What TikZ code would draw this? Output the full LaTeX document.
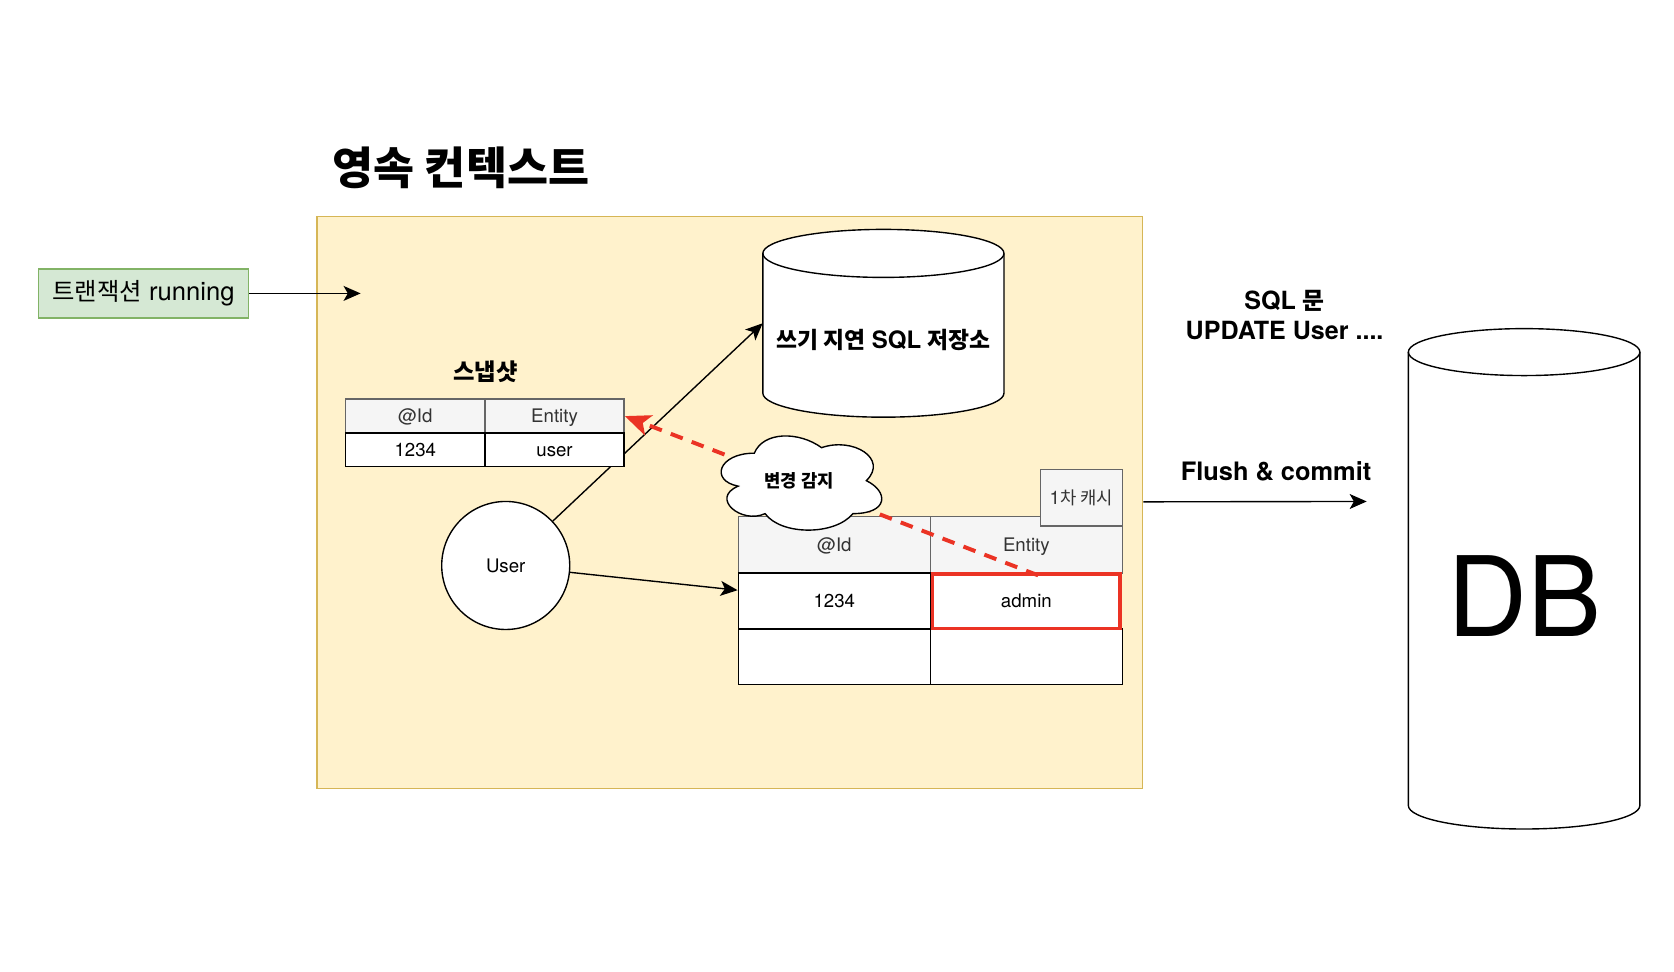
\documentclass[tikz,border=0pt]{standalone}
\usepackage{fontspec}
\setmainfont{TeX Gyre Heros}
\newfontfamily\kr[Scale=0.95]{Noto Sans CJK KR}
\usetikzlibrary{arrows.meta,calc}
\pgfdeclarelayer{back}
\pgfdeclarelayer{mid}
\pgfsetlayers{back,mid,main}
\definecolor{ctxfill}{HTML}{FFF2CC}
\definecolor{ctxdraw}{HTML}{D6B656}
\definecolor{grnfill}{HTML}{D5E8D4}
\definecolor{grndraw}{HTML}{82B366}
\definecolor{hdrfill}{HTML}{F5F5F5}
\definecolor{hdrdraw}{HTML}{666666}
\definecolor{hdrtext}{HTML}{333333}
\definecolor{alert}{HTML}{EB3324}
\tikzset{
  arr/.style={-{Stealth[length=16pt,width=14pt,inset=4pt]}, line width=1.3pt},
  redarr/.style={draw=alert, line width=3.7pt, dash pattern=on 12pt off 9pt,
     -{Stealth[length=24pt,width=20pt,inset=6pt]}},
  cell/.style={draw=black, fill=white, line width=1.3pt, inner sep=0pt,
     font=\fontsize{17.5}{20}\selectfont, text height=12.6pt, text depth=0pt},
  hdr/.style={cell, draw=hdrdraw, fill=hdrfill, text=hdrtext},
  shapeline/.style={draw=black, line width=1.3pt},
}
\begin{document}
\begin{tikzpicture}[x=1pt,y=-1pt]
\useasboundingbox (0,0) rectangle (1569,911);

% context box
\begin{pgfonlayer}{back}
\fill[white] (0,0) rectangle (1569,911);
\node[draw=ctxdraw, fill=ctxfill, line width=1.3pt, minimum width=774, minimum height=536, inner sep=0pt] (ctx) at (684,471) {};
\end{pgfonlayer}

\node[font=\fontsize{44}{50}\selectfont\bfseries] (title) at (432,157) {\kr 영속 컨텍스트};

% transaction
\node[draw=grndraw, fill=grnfill, line width=1.3pt, minimum width=197, minimum height=46, inner sep=0pt,
      font=\fontsize{24}{28}\selectfont] (txn) at (134.5,275) {{\kr 트랜잭션} running};
\coordinate (txnend) at (338,275);
\draw[arr] (txn) -- (txnend);

% snapshot
\node[font=\fontsize{23}{26}\selectfont\bfseries] (snaplbl) at (455,348) {\kr 스냅샷};
\node[hdr, minimum width=130.5, minimum height=32] (s11) at (389.25,390) {@Id};
\node[hdr, minimum width=130.5, minimum height=32] (s12) at (519.75,390) {Entity};
\node[cell, minimum width=130.5, minimum height=31] (s21) at (389.25,421.5) {1234};
\node[cell, minimum width=130.5, minimum height=31] (s22) at (519.75,421.5) {user};

% write-behind SQL store
\node[minimum width=226, minimum height=176, inner sep=0pt] (wds) at (828,303) {};
\draw[shapeline, fill=white] (715,237.5) -- (715,368.5)
   arc[start angle=180, end angle=360, x radius=113pt, y radius=22.5pt] -- (941,237.5)
   arc[start angle=0, end angle=180, x radius=113pt, y radius=22.5pt] -- cycle;
\draw[shapeline] (715,237.5) arc[start angle=180, end angle=360, x radius=113pt, y radius=22.5pt];
\node[font=\fontsize{22.5}{26}\selectfont\bfseries] (wdstext) at (828,319) {{\kr 쓰기 지연} SQL {\kr 저장소}};

% user
\node[circle, shapeline, fill=white, minimum size=120, inner sep=0pt,
      font=\fontsize{17.5}{20}\selectfont] (user) at (474,530) {User};
\begin{pgfonlayer}{mid}
\draw[arr] (user) -- (wds.west);
\end{pgfonlayer}

% first-level cache
\node[hdr, minimum width=180, minimum height=53] (c01) at (782,510.5) {@Id};
\node[hdr, minimum width=180, minimum height=53] (c02) at (962,510.5) {Entity};
\node[cell, minimum width=180, minimum height=53] (c11) at (782,563.5) {1234};
\node[cell, minimum width=180, minimum height=52] (c21) at (782,615.5) {};
\node[cell, minimum width=180, minimum height=52] (c22) at (962,615.5) {};
\node[cell, draw=alert, line width=3.5pt, minimum width=176, minimum height=51] (c12) at (962,563.5) {admin};
\node[hdr, minimum width=77, minimum height=53, font=\fontsize{17.5}{20}\selectfont] (cachelbl) at (1013.5,466.5) {1{\kr 차 캐시}};

\draw[arr] (user) -- ($(c11.north west)!0.31!(c11.south west)$);

% dirty checking
\draw[redarr] ($(c12.north)+(11,3)$) -- (s12.east);
\draw[shapeline, fill=white, shift={(665,399)}]
  (42,25.75) .. controls (8.4,25.75) and (0,51.5) .. (26.88,56.65)
  .. controls (0,67.98) and (30.24,92.7) .. (52.08,82.4)
  .. controls (67.2,103) and (117.6,103) .. (134.4,82.4)
  .. controls (168,82.4) and (168,61.8) .. (147,51.5)
  .. controls (168,30.9) and (134.4,10.3) .. (105,20.6)
  .. controls (84,5.15) and (50.4,5.15) .. (42,25.75) -- cycle;
\node[font=\fontsize{17.5}{20}\selectfont\bfseries] (cloud) at (749,451) {\kr 변경 감지};

% flush
\node[font=\fontsize{23.5}{28.5}\selectfont\bfseries, align=center] (sql) at (1204,295) {SQL {\kr 문}\\UPDATE User ....};
\node[font=\fontsize{23.8}{28}\selectfont\bfseries] (flush) at (1196,442) {Flush \& commit};
\coordinate (flushend) at (1281,470);
\draw[arr] (ctx) -- (flushend);

% DB
\node[minimum width=217, minimum height=469, inner sep=0pt] (db) at (1428.5,542.5) {};
\draw[shapeline, fill=white] (1320,330) -- (1320,755)
   arc[start angle=180, end angle=360, x radius=108.5pt, y radius=22pt] -- (1537,330)
   arc[start angle=0, end angle=180, x radius=108.5pt, y radius=22pt] -- cycle;
\draw[shapeline] (1320,330) arc[start angle=180, end angle=360, x radius=108.5pt, y radius=22pt];
\node[font=\fontsize{104}{114}\selectfont] (dbtext) at (1428.5,558.5) {DB};
\end{tikzpicture}
\end{document}
